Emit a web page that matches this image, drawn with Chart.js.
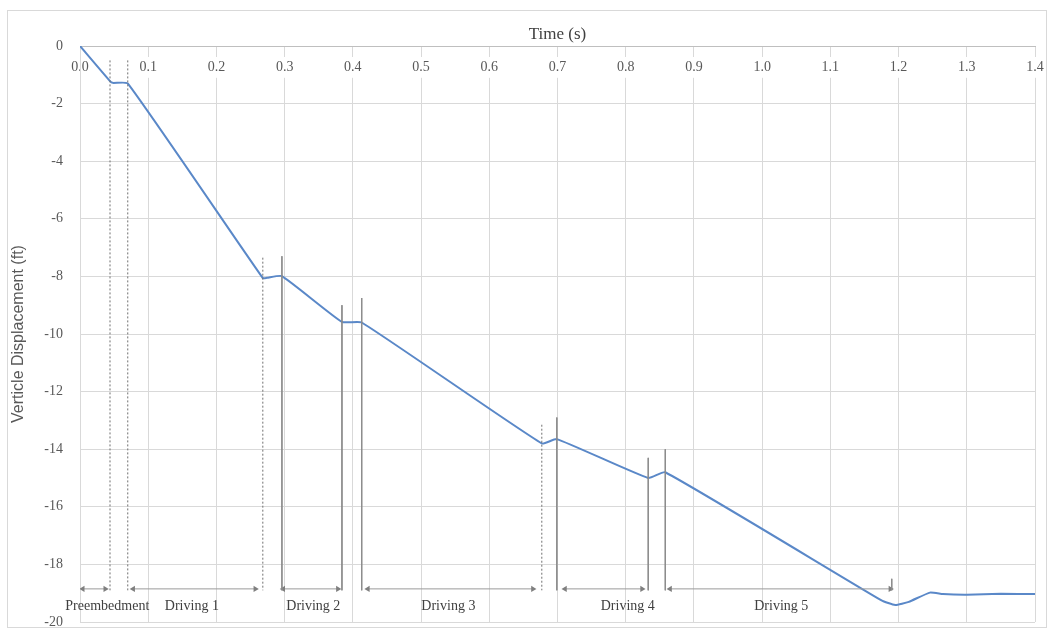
<!DOCTYPE html>
<html>
<head>
<meta charset="utf-8">
<script src="https://cdn.jsdelivr.net/npm/chart.js@4.4.1/dist/chart.umd.min.js"></script>
<style>
  html, body { margin: 0; padding: 0; background: #fff; }
  #contenedor { width: 1051px; height: 632px; }
</style>
</head>
<body>
<div id="contenedor"><canvas id="grafico"></canvas></div>
<script>
// Curva de desplazamiento (tiempo en s, desplazamiento en ft)
const tiempos = [0, 0.044, 0.048, 0.070, 0.268, 0.274, 0.296, 0.384, 0.413, 0.677, 0.699, 0.833, 0.858, 1.175, 1.195, 1.215, 1.246, 1.265, 1.30, 1.35, 1.40];
const desplazamientos = [0, -1.22, -1.28, -1.30, -8.06, -8.05, -7.99, -9.58, -9.60, -13.80, -13.65, -15.00, -14.80, -19.25, -19.41, -19.30, -18.98, -19.03, -19.05, -19.02, -19.03];

// Lineas verticales que separan las etapas
const tiemposMarca = [0.044, 0.070, 0.268, 0.296, 0.384, 0.413, 0.677, 0.699, 0.833, 0.858, 1.19];
const topesMarca = [-0.5, -0.5, -7.35, -7.3, -9.0, -8.75, -13.15, -12.9, -14.3, -14.0, -18.5];
const punteadas = [true, true, true, false, false, false, true, false, false, false, false];
const baseMarca = -18.9;

// Flechas y nombres de las etapas
const etapas = ['Preembedment', 'Driving 1', 'Driving 2', 'Driving 3', 'Driving 4', 'Driving 5'];
const flechaInicio = [0.004, 0.078, 0.298, 0.422, 0.711, 0.865];
const flechaFin = [0.037, 0.257, 0.378, 0.664, 0.824, 1.188];
const etiquetaX = [0.040, 0.164, 0.342, 0.540, 0.803, 1.028];
const alturaFlecha = -18.85;
const alturaEtiqueta = -19.45;

// Ejes
const ticksY = [0, -2, -4, -6, -8, -10, -12, -14, -16, -18, -20];

const datasets = [];

tiemposMarca.forEach((t, i) => {
    datasets.push({
        type: 'line',
        data: [{ x: t, y: topesMarca[i] }, { x: t, y: baseMarca }],
        borderColor: punteadas[i] ? '#6f6f6f' : '#8c8c8c',
        borderWidth: 1,
        borderDash: punteadas[i] ? [2, 2] : [],
        pointRadius: 0
    });
});

flechaInicio.forEach((t, i) => {
    datasets.push({
        type: 'line',
        data: [{ x: t, y: alturaFlecha }, { x: flechaFin[i], y: alturaFlecha }],
        borderColor: '#9a9a9a',
        borderWidth: 1,
        pointStyle: 'triangle',
        pointRadius: 3.5,
        pointRotation: [-90, 90],
        pointBackgroundColor: '#7f7f7f',
        pointBorderColor: '#7f7f7f',
        pointBorderWidth: 0
    });
});

// Curva principal al final para que quede encima
datasets.push({
    type: 'line',
    data: tiempos.map((t, i) => ({ x: t, y: desplazamientos[i] })),
    borderColor: '#5a88c8',
    borderWidth: 2,
    pointRadius: 0,
    tension: 0.15
});

const marco = {
    id: 'marco',
    beforeDraw(chart) {
        const ctx = chart.ctx;
        ctx.save();
        ctx.fillStyle = '#fff';
        ctx.fillRect(0, 0, chart.width, chart.height);
        ctx.strokeStyle = '#d9d9d9';
        ctx.lineWidth = 1;
        ctx.strokeRect(7.5, 10.5, 1039, 617);
        ctx.restore();
    }
};

const etiquetas = {
    id: 'etiquetas',
    afterDatasetsDraw(chart) {
        const ctx = chart.ctx;
        const x = chart.scales.x, y = chart.scales.y;
        ctx.save();
        ctx.font = '14px "Liberation Serif", serif';
        ctx.fillStyle = '#404040';
        ctx.textAlign = 'center';
        ctx.textBaseline = 'middle';
        etapas.forEach((nombre, i) => {
            ctx.fillText(nombre, x.getPixelForValue(etiquetaX[i]), y.getPixelForValue(alturaEtiqueta));
        });
        ctx.restore();
    }
};

new Chart(document.getElementById('grafico'), {
    type: 'line',
    data: { datasets: datasets },
    plugins: [marco, etiquetas],
    options: {
        responsive: true,
        maintainAspectRatio: false,
        animation: false,
        layout: { autoPadding: false, padding: { left: 7, right: 16, top: 10, bottom: 2 } },
        plugins: {
            legend: { display: false },
            tooltip: { enabled: false }
        },
        scales: {
            x: {
                type: 'linear',
                position: 'top',
                min: 0,
                max: 1.4,
                afterFit: s => { s.height = 36; s.paddingLeft = 0; s.paddingRight = 0; },
                grid: { color: '#d9d9d9', drawTicks: false },
                border: { color: '#bfbfbf' },
                ticks: {
                    stepSize: 0.1,
                    mirror: true,
                    padding: 13,
                    color: '#595959',
                    font: { family: '"Liberation Serif", serif', size: 14 },
                    showLabelBackdrop: true,
                    backdropColor: '#fff',
                    backdropPadding: 2,
                    callback: v => v.toFixed(1)
                },
                title: {
                    display: true,
                    text: 'Time (s)',
                    color: '#404040',
                    font: { family: '"Liberation Serif", serif', size: 17 },
                    padding: { top: 14, bottom: 0 }
                }
            },
            y: {
                type: 'linear',
                min: -20,
                max: 0,
                afterFit: s => { s.width = 73; s.paddingTop = 0; s.paddingBottom = 10; },
                afterBuildTicks: s => { s.ticks = ticksY.map(v => ({ value: v })); },
                grid: { color: '#d9d9d9', drawTicks: false },
                border: { color: '#d9d9d9' },
                ticks: {
                    padding: 17,
                    color: '#595959',
                    font: { family: '"Liberation Serif", serif', size: 14 }
                },
                title: {
                    display: true,
                    text: 'Verticle Displacement (ft)',
                    color: '#595959',
                    font: { family: '"Liberation Sans", Arial, sans-serif', size: 16 },
                    padding: { top: 2, bottom: 0 }
                }
            }
        }
    }
});
</script>
</body>
</html>
